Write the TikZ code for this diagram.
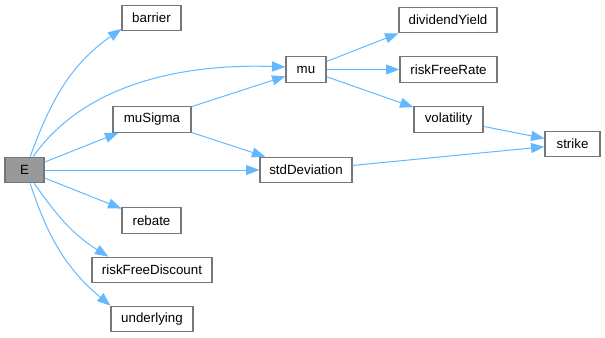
\documentclass[tikz,border=0pt]{standalone}
\usepackage{fontspec}
\setmainfont{Liberation Sans}
\usetikzlibrary{arrows.meta}
\definecolor{edgeblue}{HTML}{63B8FF}
\definecolor{boxline}{HTML}{777777}
\definecolor{rootfill}{HTML}{999999}
\tikzset{
  fn/.style={draw=boxline, line width=0.9pt, fill=white, rectangle, inner sep=0pt,
             minimum height=25.5*0.75pt, font=\fontsize{10}{12}\selectfont},
  root/.style={fn, fill=rootfill},
  call/.style={draw=edgeblue, line width=0.75pt,
               -{Triangle[length=10pt,width=7.5pt]}},
}
\begin{document}
\begin{tikzpicture}[x=0.75pt,y=-0.75pt]
  \useasboundingbox (0,0) rectangle (605,337);

  % function boxes
  \node[root, minimum width=39*0.75pt]  (E)       at (24.5,170)  {E};
  \node[fn, minimum width=59*0.75pt]    (barrier) at (151.5,18)  {barrier};
  \node[fn, minimum width=40*0.75pt]    (mu)      at (306,69.5)  {mu};
  \node[fn, minimum width=78*0.75pt]    (muSigma) at (152,119.5) {muSigma};
  \node[fn, minimum width=92*0.75pt]    (stdDev)  at (306,170)   {stdDeviation};
  \node[fn, minimum width=98*0.75pt]    (divY)    at (448,20)    {dividendYield};
  \node[fn, minimum width=97*0.75pt]    (rfRate)  at (448.5,69.5) {riskFreeRate};
  \node[fn, minimum width=69*0.75pt]    (vol)     at (448.5,119.5) {volatility};
  \node[fn, minimum width=55*0.75pt]    (strike)  at (572.5,144) {strike};
  \node[fn, minimum width=59*0.75pt]    (rebate)  at (151.5,220.5) {rebate};
  \node[fn, minimum width=120*0.75pt]   (rfDisc)  at (152,270)   {riskFreeDiscount};
  \node[fn, minimum width=82*0.75pt]    (under)   at (152,319)   {underlying};

  % calls made by E
  \draw[call] (E.67)  to[out=70, in=-145] (barrier.200);
  \draw[call] (E.57)  to[out=55, in=178, looseness=0.9] (mu.173);
  \draw[call] (E) -- (muSigma);
  \draw[call] (E) -- (stdDev);
  \draw[call] (E) -- (rebate);
  \draw[call] (E.-54) to[out=-55, in=148] (rfDisc.163);
  \draw[call] (E.-67) to[out=-72, in=140] (under.north west);

  % further calls
  \draw[call] (muSigma) -- (mu);
  \draw[call] (muSigma) -- (stdDev);
  \draw[call] (mu) -- (divY.south west);
  \draw[call] (mu) -- (rfRate);
  \draw[call] (mu) -- (vol);
  \draw[call] (vol) -- (strike);
  \draw[call] (stdDev) -- (strike);
\end{tikzpicture}
\end{document}
